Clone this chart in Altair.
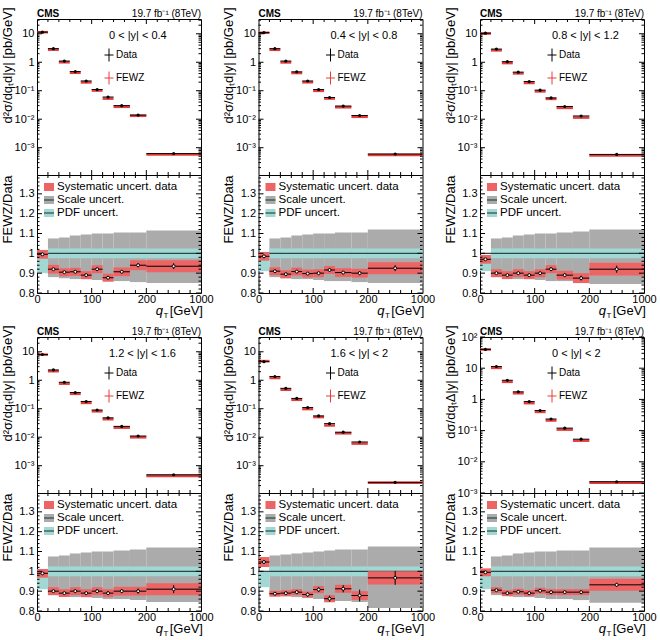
import altair as alt
import pandas as pd

FONT = "Liberation Sans"
W = 164      # plot width of every panel
HU = 156     # height of the spectrum panels
HL = 118     # height of the ratio panels

RED = "#e83c3c"
HATCH = "#ec6464"
GREY = "#ababab"
TEAL = "#a2d8d3"
LINE = "#2b4848"

# qT binning (GeV) and the point position inside each bin
q_lo = [0, 20, 40, 60, 80, 100, 120, 140, 170, 200]
q_hi = [20, 40, 60, 80, 100, 120, 140, 170, 200, 1000]
q_mid = [10, 30, 50, 70, 90, 110, 130, 155, 185, 600]

rap_label = ["0 < |y| < 0.4", "0.4 < |y| < 0.8", "0.8 < |y| < 1.2",
             "1.2 < |y| < 1.6", "1.6 < |y| < 2", "0 < |y| < 2"]
y_title = ["d²σ/dqₜd|y| [pb/GeV]"] * 5 + ["dσ/dqₜΔ|y| [pb/GeV]"]
y_domain = [[1.1e-4, 33]] * 5 + [[1e-3, 100]]

# measured cross sections per rapidity slice
xsec = [
    [11.4, 3.0, 1.1, 0.47, 0.22, 0.11, 0.060, 0.030, 0.014, 6.2e-4],
    [11.0, 3.0, 1.1, 0.46, 0.22, 0.11, 0.058, 0.029, 0.0135, 6.0e-4],
    [10.5, 2.9, 1.05, 0.45, 0.21, 0.105, 0.056, 0.028, 0.013, 5.8e-4],
    [8.0, 2.3, 0.85, 0.37, 0.18, 0.090, 0.048, 0.024, 0.011, 4.8e-4],
    [4.5, 1.35, 0.52, 0.23, 0.11, 0.056, 0.030, 0.015, 0.0068, 2.6e-4],
    [40, 11.3, 4.1, 1.75, 0.85, 0.44, 0.235, 0.12, 0.053, 0.0023],
]
# FEWZ / data ratio
ratio = [
    [0.995, 0.92, 0.905, 0.907, 0.89, 0.92, 0.877, 0.907, 0.94, 0.935],
    [0.985, 0.91, 0.895, 0.908, 0.898, 0.90, 0.916, 0.903, 0.90, 0.925],
    [0.97, 0.90, 0.89, 0.90, 0.89, 0.90, 0.92, 0.89, 0.875, 0.92],
    [0.99, 0.90, 0.89, 0.90, 0.89, 0.90, 0.89, 0.90, 0.90, 0.91],
    [1.047, 0.887, 0.89, 0.895, 0.883, 0.908, 0.862, 0.912, 0.878, 0.967],
    [0.995, 0.905, 0.89, 0.897, 0.89, 0.902, 0.895, 0.895, 0.895, 0.932],
]
# statistical uncertainty of the ratio
stat = [
    [0.003, 0.003, 0.003, 0.004, 0.005, 0.006, 0.007, 0.008, 0.010, 0.015],
    [0.003, 0.003, 0.003, 0.004, 0.005, 0.006, 0.007, 0.008, 0.010, 0.015],
    [0.003, 0.003, 0.003, 0.004, 0.005, 0.006, 0.008, 0.009, 0.012, 0.018],
    [0.003, 0.003, 0.004, 0.005, 0.006, 0.007, 0.009, 0.010, 0.013, 0.020],
    [0.005, 0.006, 0.007, 0.008, 0.010, 0.012, 0.015, 0.018, 0.030, 0.035],
    [0.002, 0.002, 0.002, 0.003, 0.003, 0.004, 0.004, 0.005, 0.006, 0.010],
]
# systematic uncertainty of the data (ratio units)
syst = [
    [0.022, 0.022, 0.020, 0.020, 0.020, 0.020, 0.020, 0.022, 0.025, 0.030],
    [0.022, 0.020, 0.020, 0.020, 0.020, 0.020, 0.020, 0.022, 0.022, 0.030],
    [0.022, 0.020, 0.020, 0.020, 0.020, 0.020, 0.020, 0.022, 0.025, 0.032],
    [0.022, 0.020, 0.020, 0.020, 0.020, 0.020, 0.020, 0.022, 0.022, 0.030],
    [0.025, 0.015, 0.015, 0.015, 0.015, 0.018, 0.018, 0.020, 0.022, 0.033],
    [0.020, 0.015, 0.015, 0.015, 0.015, 0.015, 0.015, 0.015, 0.015, 0.030],
]
# FEWZ scale uncertainty band
scale_up = [
    [1.0, 1.075, 1.08, 1.09, 1.095, 1.10, 1.10, 1.105, 1.105, 1.115],
    [1.0, 1.075, 1.08, 1.09, 1.095, 1.10, 1.10, 1.105, 1.105, 1.12],
    [1.0, 1.075, 1.08, 1.09, 1.095, 1.10, 1.10, 1.105, 1.11, 1.12],
    [1.0, 1.075, 1.08, 1.09, 1.095, 1.10, 1.10, 1.105, 1.11, 1.12],
    [1.0, 1.08, 1.085, 1.09, 1.095, 1.10, 1.105, 1.11, 1.11, 1.125],
    [1.0, 1.075, 1.08, 1.09, 1.095, 1.10, 1.10, 1.105, 1.105, 1.12],
]
scale_dn = [
    [1.0, 0.88, 0.875, 0.87, 0.87, 0.865, 0.86, 0.86, 0.855, 0.85],
    [1.0, 0.88, 0.875, 0.87, 0.87, 0.865, 0.86, 0.86, 0.855, 0.85],
    [1.0, 0.88, 0.875, 0.87, 0.87, 0.865, 0.86, 0.86, 0.855, 0.845],
    [1.0, 0.88, 0.875, 0.87, 0.87, 0.865, 0.86, 0.86, 0.855, 0.845],
    [1.0, 0.885, 0.875, 0.87, 0.865, 0.86, 0.855, 0.85, 0.845, 0.815],
    [1.0, 0.88, 0.875, 0.87, 0.87, 0.865, 0.86, 0.86, 0.855, 0.842],
]
# FEWZ PDF uncertainty band
pdf_up = [
    [1.0, 1.025, 1.025, 1.025, 1.025, 1.025, 1.025, 1.025, 1.025, 1.025],
    [0.985, 1.025, 1.025, 1.025, 1.025, 1.025, 1.025, 1.025, 1.025, 1.025],
    [0.98, 1.025, 1.025, 1.025, 1.025, 1.025, 1.025, 1.025, 1.025, 1.025],
    [1.0, 1.025, 1.025, 1.025, 1.025, 1.025, 1.025, 1.025, 1.025, 1.025],
    [1.0, 1.025, 1.025, 1.025, 1.025, 1.025, 1.025, 1.025, 1.025, 1.025],
    [1.0, 1.025, 1.025, 1.025, 1.025, 1.025, 1.025, 1.025, 1.025, 1.025],
]
pdf_dn = [
    [0.90, 0.975, 0.975, 0.975, 0.975, 0.975, 0.975, 0.975, 0.975, 0.975],
    [0.91, 0.975, 0.975, 0.975, 0.975, 0.975, 0.975, 0.975, 0.975, 0.975],
    [0.91, 0.975, 0.975, 0.975, 0.975, 0.975, 0.975, 0.975, 0.975, 0.975],
    [0.91, 0.975, 0.975, 0.975, 0.975, 0.975, 0.975, 0.975, 0.975, 0.975],
    [0.92, 0.975, 0.975, 0.975, 0.975, 0.975, 0.975, 0.975, 0.975, 0.975],
    [0.91, 0.975, 0.975, 0.975, 0.975, 0.975, 0.975, 0.975, 0.975, 0.975],
]

# tick positions (ticks point inwards and are drawn as rules)
x_major = [100, 200]
x_minor = [20, 40, 60, 80, 120, 140, 160, 180, 360, 520, 680, 840]
ratio_major = [0.8, 0.9, 1.0, 1.1, 1.2, 1.3]
ratio_minor = [round(0.8 + 0.02 * k, 2) for k in range(30) if k % 5]

# 0-200 GeV take two thirds of the width, 200-1000 GeV the rest
xs = alt.Scale(domain=[0, 200, 1000], range=[0, W * 2 / 3, W])
one = pd.DataFrame({"k": [0]})

LOG_LABELS = ("datum.value > 50 ? '10²' : datum.value > 5 ? '10' : datum.value > 0.5 ? '1' : "
              "datum.value > 0.05 ? '10⁻¹' : datum.value > 0.005 ? '10⁻²' : '10⁻³'")


def text(t, x, y, size=10, align="left", baseline="alphabetic", weight="normal",
         style="normal", color="black"):
    return alt.Chart(one).mark_text(
        text=t, font=FONT, fontSize=size, align=align, baseline=baseline,
        fontWeight=weight, fontStyle=style, color=color
    ).encode(x=alt.value(x), y=alt.value(y))


def vrule(x, y1, y2, color="black", sw=1):
    return alt.Chart(one).mark_rule(color=color, strokeWidth=sw).encode(
        x=alt.value(x), y=alt.value(y1), y2=alt.value(y2))


def hrule(x1, x2, y, color="black", sw=1):
    return alt.Chart(one).mark_rule(color=color, strokeWidth=sw).encode(
        x=alt.value(x1), x2=alt.value(x2), y=alt.value(y))


def box(x1, x2, y1, y2, color):
    return alt.Chart(one).mark_rect(color=color).encode(
        x=alt.value(x1), x2=alt.value(x2), y=alt.value(y1), y2=alt.value(y2))


def x_ticks(h, xaxis):
    out = []
    for vals, ln in ((x_major, 5), (x_minor, 3)):
        d = alt.Chart(pd.DataFrame({"t": vals}))
        for y1, y2 in ((h, h - ln), (0, ln)):
            out.append(d.mark_rule(color="black", strokeWidth=1).encode(
                x=alt.X("t:Q", scale=xs, axis=xaxis), y=alt.value(y1), y2=alt.value(y2)))
    return out


def y_ticks(major, minor, ys, yaxis):
    out = []
    for vals, ln in ((major, 5), (minor, 2.5)):
        d = alt.Chart(pd.DataFrame({"t": vals}))
        for x1, x2 in ((0, ln), (W, W - ln)):
            out.append(d.mark_rule(color="black", strokeWidth=1).encode(
                y=alt.Y("t:Q", scale=ys, axis=yaxis), x=alt.value(x1), x2=alt.value(x2)))
    return out


def upper_panel(i):
    lo, hi = y_domain[i]
    df = pd.DataFrame({
        "lo": q_lo, "hi": q_hi, "mid": q_mid, "data": xsec[i],
        "fewz": [a * b for a, b in zip(xsec[i], ratio[i])],
    })
    ys = alt.Scale(type="log", domain=[lo, hi], nice=False)
    decades = [d for d in [1e-3, 1e-2, 1e-1, 1, 10, 100] if lo <= d <= hi]
    log_minor = [m * 10.0 ** e for e in range(-4, 3) for m in range(2, 10)
                 if lo <= m * 10.0 ** e <= hi]
    yaxis = alt.Axis(values=decades, labelExpr=LOG_LABELS, title=y_title[i],
                     titleX=-23, titleY=-12, titleAngle=270, titleAlign="right",
                     titleBaseline="bottom", labelPadding=3)
    X = lambda f: alt.X(f, type="quantitative", scale=xs, axis=None)
    Y = lambda f: alt.Y(f, type="quantitative", scale=ys, axis=yaxis)
    base = alt.Chart(df)
    fewz = base.mark_rule(color=RED, strokeWidth=2.5).encode(x=X("lo"), x2="hi:Q", y=Y("fewz"))
    dline = base.mark_rule(color="black", strokeWidth=1).encode(x=X("lo"), x2="hi:Q", y=Y("data"))
    dpt = base.mark_circle(color="black", size=10, opacity=1).encode(x=X("mid"), y=Y("data"))
    layers = [fewz, dline, dpt]
    layers += x_ticks(HU, None)
    layers += y_ticks(decades, log_minor, ys, yaxis)
    layers += [
        text("CMS", 0, -2, size=10, weight="bold"),
        text("19.7 fb⁻¹ (8TeV)", W, -2, size=10, align="right"),
        text(rap_label[i], 72, 20, size=11),
        vrule(72, 29.5, 42.5), hrule(67.5, 76.5, 36),
        text("Data", 79, 36, size=10, baseline="middle"),
        vrule(72, 52.5, 65.5, color=RED), hrule(67.5, 76.5, 59, color=RED),
        text("FEWZ", 79, 59, size=10, baseline="middle"),
    ]
    return alt.layer(*layers).properties(width=W, height=HU)


def lower_panel(i):
    df = pd.DataFrame({
        "lo": q_lo, "hi": q_hi, "mid": q_mid, "r": ratio[i],
        "s_up": [r + s for r, s in zip(ratio[i], syst[i])],
        "s_dn": [r - s for r, s in zip(ratio[i], syst[i])],
        "e_up": [r + s for r, s in zip(ratio[i], stat[i])],
        "e_dn": [r - s for r, s in zip(ratio[i], stat[i])],
        "sc_up": scale_up[i], "sc_dn": scale_dn[i],
        "pdf_up": pdf_up[i], "pdf_dn": pdf_dn[i],
    })
    ys = alt.Scale(domain=[0.8, 1.395], nice=False, zero=False)
    yaxis = alt.Axis(values=ratio_major,
                     labelExpr="datum.value == 1 ? '1' : format(datum.value, '.1f')",
                     title="FEWZ/Data", titleX=-23, titleY=0, titleAngle=270,
                     titleAlign="right", titleBaseline="bottom", labelPadding=3)
    xaxis = alt.Axis(values=[0, 100, 200, 1000], labelFlush=False, labelPadding=0,
                     title=None, format="d", labelOverlap=False)
    X = lambda f: alt.X(f, type="quantitative", scale=xs, axis=xaxis)
    Y = lambda f: alt.Y(f, type="quantitative", scale=ys, axis=yaxis)
    base = alt.Chart(df)
    scale_band = base.mark_rect(color=GREY).encode(x=X("lo"), x2="hi:Q", y=Y("sc_dn"), y2="sc_up:Q")
    pdf_band = base.mark_rect(color=TEAL).encode(x=X("lo"), x2="hi:Q", y=Y("pdf_dn"), y2="pdf_up:Q")
    unity = alt.Chart(pd.DataFrame({"v": [1.0]})).mark_rule(color=LINE, strokeWidth=1.2).encode(
        y=Y("v"), x=alt.value(0), x2=alt.value(W))
    syst_band = base.mark_rect(color=HATCH).encode(x=X("lo"), x2="hi:Q", y=Y("s_dn"), y2="s_up:Q")
    hbar = base.mark_rule(color="black", strokeWidth=1).encode(x=X("lo"), x2="hi:Q", y=Y("r"))
    vbar = base.mark_rule(color="black", strokeWidth=1).encode(x=X("mid"), y=Y("e_dn"), y2="e_up:Q")
    pts = base.mark_point(shape="circle", filled=True, fill="white", stroke="black",
                          strokeWidth=1, size=9, opacity=1).encode(x=X("mid"), y=Y("r"))
    layers = [scale_band, pdf_band, unity, syst_band, hbar, vbar, pts]
    layers += x_ticks(HL, xaxis)
    layers += y_ticks(ratio_major, ratio_minor, ys, yaxis)
    layers += [
        box(7, 17, 8, 16, HATCH),
        text("Systematic uncert. data", 20, 12, size=11.5, baseline="middle"),
        box(7, 17, 21, 29, GREY), hrule(7, 17, 25, color=LINE, sw=1.2),
        text("Scale uncert.", 20, 25, size=11.5, baseline="middle"),
        box(7, 17, 34, 42, TEAL), hrule(7, 17, 38, color=LINE, sw=1.2),
        text("PDF uncert.", 20, 38, size=11.5, baseline="middle"),
        text("q", W - 38, HL + 22, size=13, align="right", style="italic"),
        text("T", W - 35, HL + 24.5, size=8, align="center"),
        text("[GeV]", W + 2, HL + 22, size=13, align="right"),
    ]
    return alt.layer(*layers).properties(width=W, height=HL)


def column(i):
    # ratio panel sits directly under the spectrum panel, whatever sticks out of it
    return alt.vconcat(upper_panel(i), lower_panel(i), spacing=0, bounds="flush")


row1 = alt.hconcat(column(0), column(1), column(2), spacing=7.5)
row2 = alt.hconcat(column(3), column(4), column(5), spacing=7.5)

chart = alt.vconcat(row1, row2, spacing=4).properties(
    padding={"left": 0, "top": 6, "right": 0, "bottom": 0},
    background="white",
).configure_view(
    stroke="black", strokeWidth=1
).configure_axis(
    labelFont=FONT, titleFont=FONT, labelColor="black", titleColor="black",
    labelFontSize=11, titleFontSize=13, titleFontWeight="normal",
    ticks=False, domain=False, grid=False,
)

chart.save("out.html", embed_options={"renderer": "svg", "actions": False})
